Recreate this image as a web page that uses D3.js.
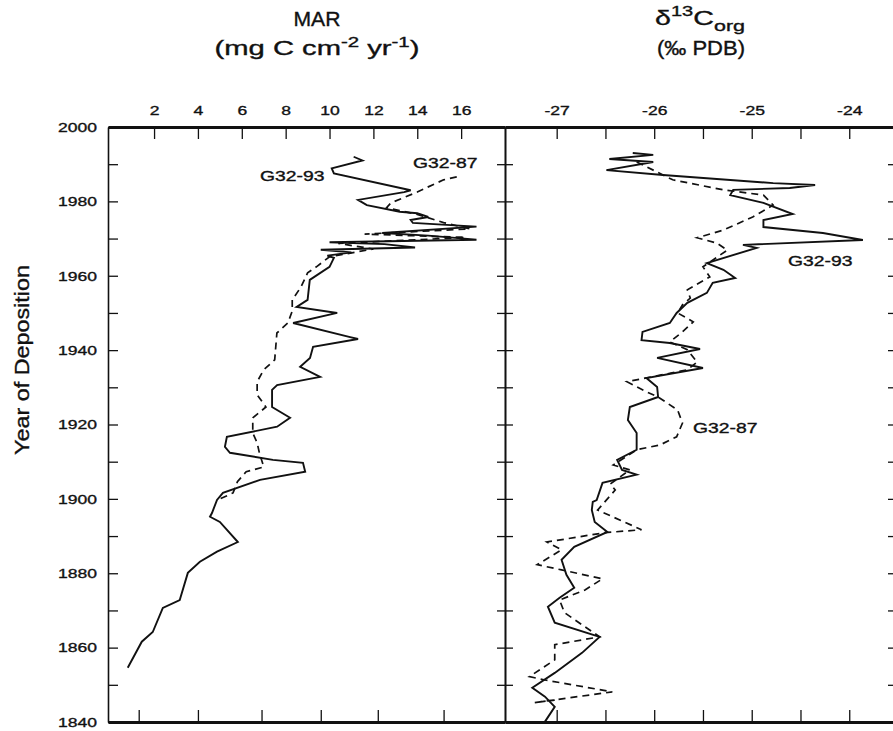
<!DOCTYPE html>
<html>
<head>
<meta charset="utf-8">
<style>
  body { margin: 0; background: #fff; }
  svg { display: block; }
  text { font-family: "Liberation Sans", Arial, sans-serif; fill: #111; stroke: #111; stroke-width: 0.35px; }
  .axis path, .axis line { stroke: #111; }
</style>
</head>
<body>
<svg width="893" height="731"></svg>
<script src="https://cdnjs.cloudflare.com/ajax/libs/d3/7.8.5/d3.min.js"></script>
<script>
// MAR (mg C cm-2 yr-1), [year, value]
var mar93 = [[1992.0,11.1],[1991.0,11.5],[1988.9,10.1],[1987.5,10.2],[1983.0,13.7],[1982.5,13.4],[1980.4,11.3],
  [1979.0,11.7],[1977.2,13.2],[1976.8,14.0],[1975.8,14.5],[1975.0,13.7],[1974.2,13.8],[1973.2,16.7],[1971.5,12.4],
  [1970.8,14.5],[1969.7,16.7],[1969.0,10.0],[1968.5,12.5],[1967.6,13.9],[1967.0,9.6],[1966.3,11.0],[1965.4,9.9],
  [1964.8,10.2],[1962.4,10.0],[1958.9,9.1],[1953.5,9.0],[1951.6,8.5],[1950.0,10.35],[1947.3,8.34],[1943.5,10.94],
  [1943.0,11.3],[1940.9,9.25],[1937.9,9.11],[1935.5,8.66],[1932.8,9.57],[1930.6,7.61],[1929.3,7.38],[1924.7,7.38],
  [1921.8,8.2],[1919.4,7.61],[1916.7,5.32],[1914.0,5.23],[1912.4,5.46],[1910.5,7.42],[1909.7,8.79],[1907.3,8.89],
  [1905.1,6.83],[1901.6,5.14],[1899.7,4.87],[1896.2,4.64],[1895.2,4.55],[1893.8,5.0],[1888.4,5.82],[1885.8,4.87],
  [1883.1,4.09],[1880.1,3.54],[1872.8,3.17],[1870.7,2.4],[1864.2,1.94],[1861.6,1.44],[1854.6,0.80]];

var mar87 = [[1986.6,15.8],[1985.8,15.2],[1983.9,14.5],[1982.5,14.0],[1979.6,12.8],[1978.3,12.6],[1976.5,14.0],
  [1974.3,15.2],[1972.6,16.4],[1971.2,11.6],[1970.3,16.2],[1968.7,10.4],[1967.2,12.0],[1965.1,10.0],[1962.4,9.4],
  [1960.8,9.0],[1957.0,8.7],[1953.5,8.3],[1950.5,8.3],[1947.3,8.1],[1944.6,7.6],[1937.4,7.5],[1934.7,7.0],
  [1931.5,6.7],[1928.0,6.7],[1924.7,7.1],[1921.8,6.5],[1917.7,6.5],[1915.1,6.7],[1912.4,6.8],[1908.6,7.0],
  [1907.3,6.2],[1904.6,5.8],[1901.6,5.6],[1899.7,4.9]];

// d13C org (per mil PDB), [year, value]
var d13c93 = [[1993.0,-26.22],[1992.5,-26.01],[1991.4,-26.46],[1990.6,-26.01],[1988.4,-26.49],[1987.1,-25.91],
  [1984.9,-24.78],[1984.4,-24.35],[1983.6,-24.61],[1983.1,-25.19],[1981.7,-25.22],[1979.6,-24.88],[1976.6,-24.58],
  [1975.0,-24.88],[1973.1,-24.88],[1971.5,-24.27],[1969.6,-23.86],[1968.3,-25.09],[1967.5,-24.95],[1963.4,-25.46],
  [1961.6,-25.29],[1959.4,-25.17],[1958.1,-25.40],[1955.4,-25.46],[1952.7,-25.66],[1950.0,-25.77],[1947.3,-25.84],
  [1944.9,-26.12],[1942.7,-26.13],[1941.9,-25.84],[1940.3,-25.53],[1937.9,-25.97],[1935.2,-25.50],[1932.5,-26.08],
  [1930.1,-25.97],[1927.4,-25.96],[1924.7,-26.25],[1921.2,-26.27],[1917.7,-26.18],[1913.2,-26.18],[1910.5,-26.38],
  [1907.8,-26.33],[1906.5,-26.18],[1904.3,-26.53],[1899.7,-26.59],[1899.2,-26.63],[1897.0,-26.64],[1893.8,-26.61],
  [1891.1,-26.48],[1887.1,-26.82],[1883.6,-26.95],[1879.6,-26.90],[1876.1,-26.82],[1873.4,-26.97],[1871.0,-27.09],
  [1866.7,-27.02],[1862.9,-26.56],[1858.6,-26.74],[1853.2,-27.02],[1849.2,-27.25],[1846.8,-27.12],[1844.1,-27.02],
  [1840.1,-27.12]];

var d13c87 = [[1990.6,-26.18],[1988.4,-26.01],[1985.8,-25.81],[1983.1,-25.29],[1981.7,-24.88],[1979.0,-24.78],
  [1975.8,-24.99],[1972.3,-25.29],[1970.2,-25.56],[1968.8,-25.36],[1966.9,-25.25],[1962.4,-25.50],[1959.7,-25.43],
  [1956.2,-25.66],[1954.0,-25.63],[1952.2,-25.71],[1950.0,-25.76],[1947.6,-25.60],[1944.9,-25.71],[1942.2,-25.84],
  [1940.1,-25.66],[1936.8,-25.56],[1934.7,-25.66],[1931.5,-26.28],[1928.8,-26.08],[1927.4,-25.96],[1923.9,-25.76],
  [1920.4,-25.71],[1916.7,-25.77],[1914.5,-25.94],[1913.2,-26.18],[1909.1,-26.42],[1907.8,-26.25],[1904.0,-26.45],
  [1902.4,-26.40],[1897.0,-26.58],[1891.7,-26.13],[1890.9,-26.51],[1888.4,-27.10],[1886.3,-26.95],[1882.3,-27.20],
  [1880.9,-26.95],[1878.5,-26.53],[1875.5,-26.71],[1872.8,-26.97],[1869.4,-26.92],[1862.9,-26.56],[1860.8,-27.02],
  [1856.7,-27.02],[1852.2,-27.28],[1851.3,-27.12],[1848.1,-26.43],[1845.2,-27.23],[1845.9,-27.02]];

var yearTicks = d3.range(1840, 2001, 10);
var yearLabels = d3.range(1840, 2001, 20);
var marTicks = [2, 4, 6, 8, 10, 12, 14, 16];
var marBottomTicks = [1.3, 4, 6.9, 9.6, 12.2, 15.2];
var d13cLabels = [-27, -26, -25, -24];
var d13cTicks = [-27, -26.5, -26, -25.5, -25, -24.5, -24];

var svg = d3.select("svg");

var y = d3.scaleLinear().domain([1840, 2000]).range([722, 127]);
var xL = d3.scaleLinear().domain([-0.1, 18]).range([108, 505]);
var xR = d3.scaleLinear().domain([-27.53, -23.5]).range([505, 898]);

// widen text horizontally about its anchor x (the original lettering is wide)
function stretch(sel, s) {
  sel.each(function() {
    var t = d3.select(this), ax = +t.attr("x") || 0;
    t.attr("transform", "translate(" + ax + ",0) scale(" + s + ",1) translate(" + (-ax) + ",0)");
  });
}
function fitWidth(sel, w) {
  sel.each(function() { stretch(d3.select(this), w / this.getBBox().width); });
}

// y axis, left
var yAxisL = svg.append("g").attr("class", "axis").attr("transform", "translate(108,0)")
  .call(d3.axisLeft(y).tickValues(yearTicks).tickSize(-10).tickPadding(11).tickSizeOuter(0)
    .tickFormat(function(d) { return yearLabels.indexOf(d) >= 0 ? d : ""; }));
yAxisL.select(".domain").attr("stroke-width", 1.6);
yAxisL.selectAll(".tick line").attr("stroke-width", 1.3);
yAxisL.selectAll(".tick text").style("font-size", "13.5px").call(stretch, 1.3);

// middle divider, ticks on both sides
[d3.axisLeft, d3.axisRight].forEach(function(ax) {
  var g = svg.append("g").attr("class", "axis").attr("transform", "translate(505,0)")
    .call(ax(y).tickValues(yearTicks.slice(1, -1)).tickSize(8).tickSizeOuter(0).tickFormat(""));
  g.select(".domain").attr("stroke-width", 1.6);
  g.selectAll(".tick line").attr("stroke-width", 1.3);
});

// right edge
var gR = svg.append("g").attr("class", "axis").attr("transform", "translate(898,0)")
  .call(d3.axisRight(y).tickValues(yearTicks.slice(1, -1)).tickSize(-10).tickSizeOuter(0).tickFormat(""));
gR.selectAll(".tick line").attr("stroke-width", 1.3);

// top axes
var topL = svg.append("g").attr("class", "axis").attr("transform", "translate(0,127)")
  .call(d3.axisTop(xL).tickValues(marTicks).tickSize(-12).tickPadding(12).tickSizeOuter(0));
var topR = svg.append("g").attr("class", "axis").attr("transform", "translate(0,127)")
  .call(d3.axisTop(xR).tickValues(d13cTicks).tickSize(-12).tickPadding(12).tickSizeOuter(0)
    .tickFormat(function(d) { return d13cLabels.indexOf(d) >= 0 ? d : ""; }));
[topL, topR].forEach(function(g) {
  g.select(".domain").attr("stroke-width", 3);
  g.selectAll(".tick line").attr("stroke-width", 1.3);
  g.selectAll(".tick text").style("font-size", "13.5px").call(stretch, 1.3);
});

// bottom axes
var botL = svg.append("g").attr("class", "axis").attr("transform", "translate(0,722)")
  .call(d3.axisBottom(xL).tickValues(marBottomTicks).tickSize(-12).tickSizeOuter(0).tickFormat(""));
var botR = svg.append("g").attr("class", "axis").attr("transform", "translate(0,722)")
  .call(d3.axisBottom(xR).tickValues(d13cTicks).tickSize(-12).tickSizeOuter(0).tickFormat(""));
[botL, botR].forEach(function(g) {
  g.select(".domain").attr("stroke-width", 3);
  g.selectAll(".tick line").attr("stroke-width", 1.3);
});

// lines
var lineL = d3.line().x(function(d) { return xL(d[1]); }).y(function(d) { return y(d[0]); });
var lineR = d3.line().x(function(d) { return xR(d[1]); }).y(function(d) { return y(d[0]); });

svg.append("path").datum(mar87).attr("d", lineL).attr("fill", "none")
  .attr("stroke", "#111").attr("stroke-width", 1.7).attr("stroke-dasharray", "7,5");
svg.append("path").datum(mar93).attr("d", lineL).attr("fill", "none")
  .attr("stroke", "#111").attr("stroke-width", 1.9);
svg.append("path").datum(d13c87).attr("d", lineR).attr("fill", "none")
  .attr("stroke", "#111").attr("stroke-width", 1.7).attr("stroke-dasharray", "7,5");
svg.append("path").datum(d13c93).attr("d", lineR).attr("fill", "none")
  .attr("stroke", "#111").attr("stroke-width", 1.9);

// series labels
function label(text, x, yy) {
  svg.append("text").attr("x", x).attr("y", yy).style("font-size", "14px").text(text)
    .call(stretch, 1.38);
}
label("G32-93", 260, 181);
label("G32-87", 413, 168);
label("G32-93", 788, 266);
label("G32-87", 693, 433);

// titles
svg.append("text").attr("x", 317).attr("y", 26).attr("text-anchor", "middle")
  .style("font-size", "20px").text("MAR").call(fitWidth, 47);
var t2 = svg.append("text").attr("x", 317).attr("y", 55).attr("text-anchor", "middle").style("font-size", "20px");
t2.append("tspan").text("(mg C cm");
t2.append("tspan").attr("dy", -8).style("font-size", "14px").text("-2");
t2.append("tspan").attr("dy", 8).text(" yr");
t2.append("tspan").attr("dy", -8).style("font-size", "14px").text("-1");
t2.append("tspan").attr("dy", 8).text(")");
t2.call(fitWidth, 205);

var t3 = svg.append("text").attr("x", 700).attr("y", 25).attr("text-anchor", "middle").style("font-size", "20px");
t3.append("tspan").text("\u03b4");
t3.append("tspan").attr("dy", -9).style("font-size", "14px").text("13");
t3.append("tspan").attr("dy", 9).text("C");
t3.append("tspan").attr("dy", 6).style("font-size", "15px").text("org");
t3.call(fitWidth, 90);
svg.append("text").attr("x", 701).attr("y", 55).attr("text-anchor", "middle")
  .style("font-size", "20px").text("(\u2030 PDB)").call(fitWidth, 88);

svg.append("text").attr("transform", "translate(29,360) rotate(-90)").attr("text-anchor", "middle")
  .style("font-size", "21px").attr("textLength", 190).attr("lengthAdjust", "spacingAndGlyphs")
  .text("Year of Deposition");
</script>
</body>
</html>
